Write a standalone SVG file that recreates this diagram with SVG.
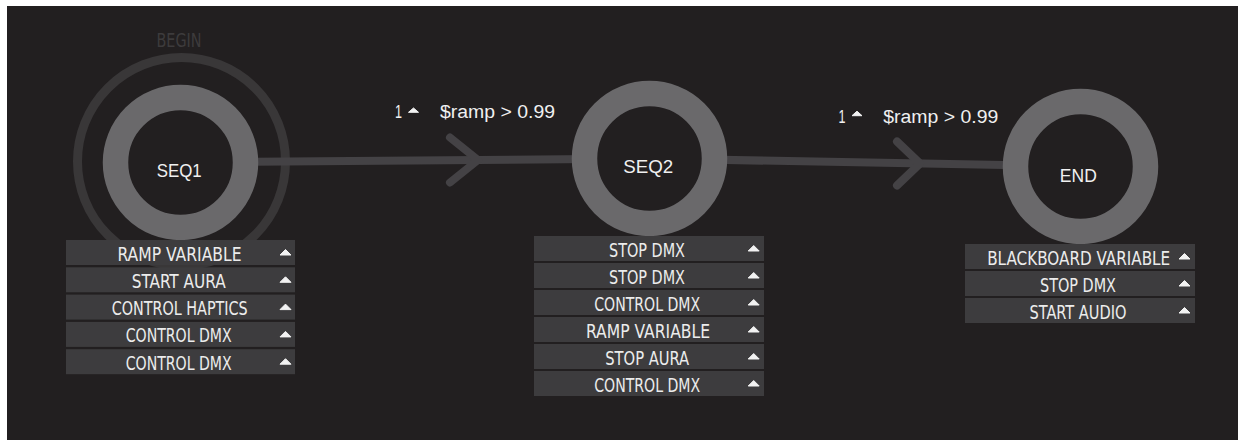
<svg xmlns="http://www.w3.org/2000/svg" width="1238" height="440" viewBox="0 0 1238 440">
<style>
.ring{fill:#221f20;stroke:#6a696b;stroke-width:25.5}
.edge{fill:none;stroke:#444245;stroke-width:8;stroke-linecap:round;stroke-linejoin:round}
.row{fill:#3d3c3e}
.rt{font-family:"DejaVu Sans Condensed","DejaVu Sans",sans-serif;font-size:19px;fill:#ececec;text-anchor:middle}
.tri{fill:#f2f2f2;stroke:#f2f2f2;stroke-width:1;stroke-linejoin:round}
.nl{font-family:"Liberation Sans",Arial,sans-serif;font-size:19px;fill:#f0f0f0;text-anchor:middle}
.tl{font-family:"Liberation Sans",Arial,sans-serif;font-size:18px;fill:#f0f0f0}
</style>
<rect x="0" y="0" width="1238" height="440" fill="#ffffff"/>
<rect x="7" y="6" width="1231" height="434" fill="#221f20"/>

<g id="begin-marker">
<circle cx="181.5" cy="161.5" r="104" fill="none" stroke="#393738" stroke-width="9"/>
<text x="156.5" y="46.5" font-family="DejaVu Sans Condensed,DejaVu Sans,sans-serif" font-size="19" fill="#3d3b3c" textLength="45" lengthAdjust="spacingAndGlyphs">BEGIN</text>
</g>

<g id="connectors">
<line class="edge" x1="180.5" y1="162.5" x2="649.5" y2="158.5"/>
<polyline class="edge" points="450,137.5 478,160 450,182.5"/>
<text class="tl" x="395" y="118.3" textLength="7" lengthAdjust="spacingAndGlyphs">1</text>
<polygon class="tri" points="408.5,112.3 418.5,112.3 413.5,108"/>
<text class="tl" x="440" y="118.3" textLength="115" lengthAdjust="spacingAndGlyphs">$ramp &gt; 0.99</text>
<line class="edge" x1="649.5" y1="158.5" x2="1080.5" y2="166.5"/>
<polyline class="edge" points="897,141.5 920,163.5 897,185.5"/>
<text class="tl" x="838.5" y="122.5" textLength="7" lengthAdjust="spacingAndGlyphs">1</text>
<polygon class="tri" points="852,115.7 862,115.7 857,111.2"/>
<text class="tl" x="883.3" y="122.5" textLength="115" lengthAdjust="spacingAndGlyphs">$ramp &gt; 0.99</text>
</g>

<g id="node-seq1">
<circle class="ring" cx="180.5" cy="162.5" r="65"/>
<text class="nl" x="179.2" y="177" textLength="45" lengthAdjust="spacingAndGlyphs">SEQ1</text>
<rect class="row" x="66" y="240" width="229" height="25"/>
<text class="rt" x="179.5" y="260.5" textLength="124" lengthAdjust="spacingAndGlyphs">RAMP VARIABLE</text>
<polygon class="tri" points="280,255 291,255 285.5,249.5"/>
<rect class="row" x="66" y="267.3" width="229" height="25"/>
<text class="rt" x="178.7" y="287.8" textLength="94" lengthAdjust="spacingAndGlyphs">START AURA</text>
<polygon class="tri" points="280,282.3 291,282.3 285.5,276.8"/>
<rect class="row" x="66" y="294.6" width="229" height="25"/>
<text class="rt" x="179.7" y="315.1" textLength="136" lengthAdjust="spacingAndGlyphs">CONTROL HAPTICS</text>
<polygon class="tri" points="280,309.6 291,309.6 285.5,304.1"/>
<rect class="row" x="66" y="321.9" width="229" height="25"/>
<text class="rt" x="178.7" y="342.4" textLength="106" lengthAdjust="spacingAndGlyphs">CONTROL DMX</text>
<polygon class="tri" points="280,336.9 291,336.9 285.5,331.4"/>
<rect class="row" x="66" y="349.2" width="229" height="25"/>
<text class="rt" x="178.7" y="369.7" textLength="106" lengthAdjust="spacingAndGlyphs">CONTROL DMX</text>
<polygon class="tri" points="280,364.2 291,364.2 285.5,358.7"/>
</g>

<g id="node-seq2">
<circle class="ring" cx="649.5" cy="158.5" r="65"/>
<text class="nl" x="648.3" y="172.5" textLength="50" lengthAdjust="spacingAndGlyphs">SEQ2</text>
<rect class="row" x="534" y="236" width="230" height="25"/>
<text class="rt" x="647" y="256.5" textLength="76" lengthAdjust="spacingAndGlyphs">STOP DMX</text>
<polygon class="tri" points="748.2,251 759.2,251 753.7,245.5"/>
<rect class="row" x="534" y="263" width="230" height="25"/>
<text class="rt" x="647" y="283.5" textLength="76" lengthAdjust="spacingAndGlyphs">STOP DMX</text>
<polygon class="tri" points="748.2,278 759.2,278 753.7,272.5"/>
<rect class="row" x="534" y="290" width="230" height="25"/>
<text class="rt" x="647.2" y="310.5" textLength="106" lengthAdjust="spacingAndGlyphs">CONTROL DMX</text>
<polygon class="tri" points="748.2,305 759.2,305 753.7,299.5"/>
<rect class="row" x="534" y="317" width="230" height="25"/>
<text class="rt" x="648" y="337.5" textLength="124" lengthAdjust="spacingAndGlyphs">RAMP VARIABLE</text>
<polygon class="tri" points="748.2,332 759.2,332 753.7,326.5"/>
<rect class="row" x="534" y="344" width="230" height="25"/>
<text class="rt" x="647.2" y="364.5" textLength="84" lengthAdjust="spacingAndGlyphs">STOP AURA</text>
<polygon class="tri" points="748.2,359 759.2,359 753.7,353.5"/>
<rect class="row" x="534" y="371" width="230" height="25"/>
<text class="rt" x="647.2" y="391.5" textLength="106" lengthAdjust="spacingAndGlyphs">CONTROL DMX</text>
<polygon class="tri" points="748.2,386 759.2,386 753.7,380.5"/>
</g>

<g id="node-end">
<circle class="ring" cx="1080.5" cy="166.5" r="65"/>
<text class="nl" x="1078.3" y="181.5" textLength="37" lengthAdjust="spacingAndGlyphs">END</text>
<rect class="row" x="965" y="244" width="230" height="25"/>
<text class="rt" x="1078.7" y="264.5" textLength="183" lengthAdjust="spacingAndGlyphs">BLACKBOARD VARIABLE</text>
<polygon class="tri" points="1179,259 1190,259 1184.5,253.5"/>
<rect class="row" x="965" y="271" width="230" height="25"/>
<text class="rt" x="1078" y="291.5" textLength="76" lengthAdjust="spacingAndGlyphs">STOP DMX</text>
<polygon class="tri" points="1179,286 1190,286 1184.5,280.5"/>
<rect class="row" x="965" y="298" width="230" height="25"/>
<text class="rt" x="1078" y="318.5" textLength="97" lengthAdjust="spacingAndGlyphs">START AUDIO</text>
<polygon class="tri" points="1179,313 1190,313 1184.5,307.5"/>
</g>
</svg>
